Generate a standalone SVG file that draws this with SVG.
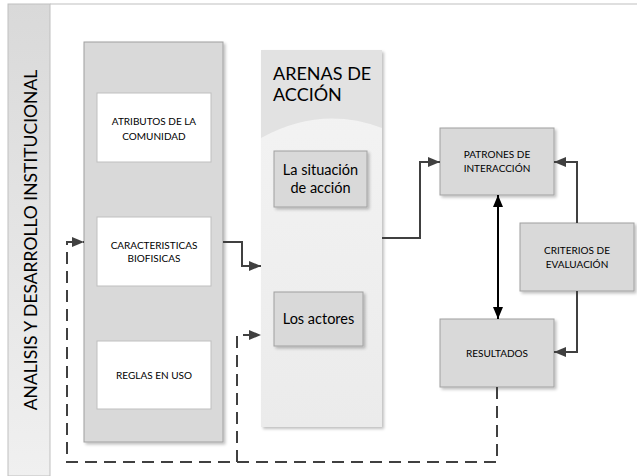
<svg xmlns="http://www.w3.org/2000/svg" width="637" height="476" viewBox="0 0 637 476">
<defs>
<linearGradient id="band" x1="0" y1="0" x2="0" y2="1">
<stop offset="0" stop-color="#d9d9d9"/>
<stop offset="1" stop-color="#f0f0f0"/>
</linearGradient>
<linearGradient id="arena" x1="0" y1="0" x2="0" y2="1">
<stop offset="0" stop-color="#f4f4f4"/>
<stop offset="1" stop-color="#ebebeb"/>
</linearGradient>
<filter id="sh" x="-10%" y="-10%" width="130%" height="130%">
<feGaussianBlur in="SourceAlpha" stdDeviation="1.5"/>
<feOffset dx="2" dy="2" result="b"/>
<feComponentTransfer><feFuncA type="linear" slope="0.25"/></feComponentTransfer>
<feMerge><feMergeNode/><feMergeNode in="SourceGraphic"/></feMerge>
</filter>
<marker id="ah" viewBox="0 0 12 10" refX="12" refY="5" markerWidth="12" markerHeight="10" markerUnits="userSpaceOnUse" orient="auto-start-reverse">
<path d="M0,0 L12,5 L0,10 z" fill="#404040"/>
</marker>
<marker id="ahk" viewBox="0 0 12 10" refX="12" refY="5" markerWidth="12" markerHeight="10" markerUnits="userSpaceOnUse" orient="auto-start-reverse">
<path d="M0,0 L12,5 L0,10 z" fill="#000"/>
</marker>
</defs>
<style>
.t{font-family:Lato,"Open Sans",sans-serif;fill:#000;text-anchor:middle}
.s{font-size:10px}
.m{font-size:14.5px}
.box{fill:#d9d9d9;stroke:#a0a0a0;stroke-width:1}
.wbox{fill:#fff;stroke:#bfbfbf;stroke-width:1}
.c{fill:none;stroke:#404040;stroke-width:2}
.d{fill:none;stroke:#404040;stroke-width:2;stroke-dasharray:12,7}
</style>
<rect width="637" height="476" fill="#fff"/>
<g id="frame">
<rect x="8" y="4" width="42" height="472" fill="url(#band)" stroke="#bfbfbf" stroke-width="1"/>
<line x1="50" y1="4" x2="637" y2="4" stroke="#bfbfbf" stroke-width="1"/>
<text class="t" transform="translate(36.5,240) rotate(-90)" font-size="17.5">ANALISIS Y DESARROLLO INSTITUCIONAL</text>
</g>
<g id="atributos-group">
<rect x="84" y="42" width="139" height="400" class="box" filter="url(#sh)"/>
</g>
<g id="atributos">
<rect x="97" y="93" width="114" height="69" class="wbox"/>
<text class="t s" x="154" y="125">ATRIBUTOS DE LA</text>
<text class="t s" x="154" y="140">COMUNIDAD</text>
</g>
<g id="caracteristicas">
<rect x="97" y="217" width="114" height="69" class="wbox"/>
<text class="t s" x="154" y="249">CARACTERISTICAS</text>
<text class="t s" x="154" y="262">BIOFISICAS</text>
</g>
<g id="reglas">
<rect x="97" y="341" width="114" height="68" class="wbox"/>
<text class="t s" x="154" y="379">REGLAS EN USO</text>
</g>
<g id="arenas">
<rect x="261" y="50" width="121" height="377" fill="url(#arena)" filter="url(#sh)"/>
<path d="M261,50 H382 V128 Q321,105 261,138 Z" fill="#e2e2e2"/>
<text x="273" y="80" font-family="Lato,'Open Sans',sans-serif" font-size="18" fill="#000">ARENAS DE</text>
<text x="273" y="101" font-family="Lato,'Open Sans',sans-serif" font-size="18" fill="#000">ACCIÓN</text>
</g>
<g id="situacion">
<rect x="274" y="151" width="93" height="56" class="box" filter="url(#sh)"/>
<text class="t m" x="320.5" y="175">La situación</text>
<text class="t m" x="320.5" y="193">de acción</text>
</g>
<g id="actores">
<rect x="274" y="292" width="89" height="54" class="box" filter="url(#sh)"/>
<text class="t m" x="318.5" y="324">Los actores</text>
</g>
<g id="patrones">
<rect x="440" y="128" width="114" height="67" class="box" filter="url(#sh)"/>
<text class="t s" x="497" y="158">PATRONES DE</text>
<text class="t s" x="497" y="172">INTERACCIÓN</text>
</g>
<g id="criterios">
<rect x="520" y="223" width="114" height="68" class="box" filter="url(#sh)"/>
<text class="t s" x="577" y="254">CRITERIOS DE</text>
<text class="t s" x="577" y="268">EVALUACIÓN</text>
</g>
<g id="resultados">
<rect x="440" y="319" width="114" height="68" class="box" filter="url(#sh)"/>
<text class="t s" x="497" y="357">RESULTADOS</text>
</g>
<g id="connectors">
<path class="c" d="M223,242 H242 V266 H261" marker-end="url(#ah)"/>
<path class="c" d="M382,238 H420 V162 H440" marker-end="url(#ah)"/>
<path class="c" d="M577,223 V162 H554" marker-end="url(#ah)"/>
<path class="c" d="M577,291 V352 H554" marker-end="url(#ah)"/>
<path d="M498,195 V319" fill="none" stroke="#000" stroke-width="2" marker-start="url(#ahk)" marker-end="url(#ahk)"/>
<path class="d" d="M497,387 V462 H67 V242 H84" marker-end="url(#ah)"/>
<path class="d" d="M237,462 V335 H261" marker-end="url(#ah)"/>
</g>
</svg>
